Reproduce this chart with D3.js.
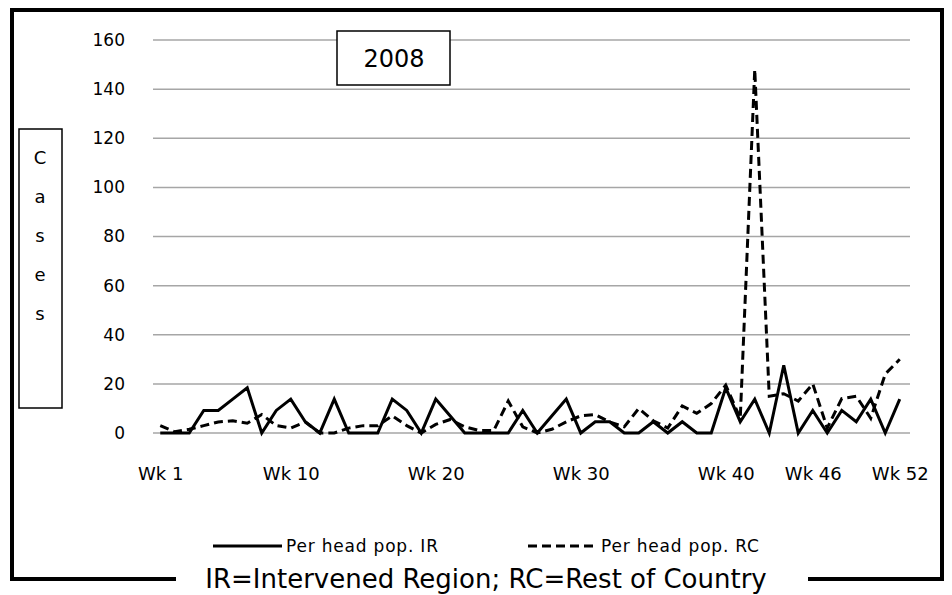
<!DOCTYPE html>
<html>
<head>
<meta charset="utf-8">
<script src="https://cdn.jsdelivr.net/npm/d3@7"></script>
<style>
  body { margin: 0; background: #fff; }
  text { font-family: "DejaVu Sans", Verdana, sans-serif; fill: #000; }
</style>
</head>
<body>
<div id="chart"></div>
<script>
// weekly cases per head of population, 2008
var weeks = d3.range(1, 53).map(function (w) { return "Wk " + w; });
var tickWeeks = ["Wk 1", "Wk 10", "Wk 20", "Wk 30", "Wk 40", "Wk 46", "Wk 52"];
var yTicks = [0, 20, 40, 60, 80, 100, 120, 140, 160];

var perHeadIR = [0, 0, 0, 9.2, 9.2, 13.8, 18.4, 0, 9.2, 13.8,
  4.6, 0, 13.8, 0, 0, 0, 13.8, 9.2, 0, 13.8,
  6.9, 0, 0, 0, 0, 9.2, 0, 6.9, 13.8, 0,
  4.6, 4.6, 0, 0, 4.6, 0, 4.6, 0, 0, 18.4,
  4.6, 13.8, 0, 27.6, 0, 9.2, 0, 9.2, 4.6, 13.8,
  0, 13.8];
var perHeadRC = [3, 0.5, 1.5, 3, 4.5, 5, 4, 7.5, 3, 2,
  4.5, 0, 0, 2, 3, 3, 7, 3, 0, 3.5,
  5.5, 2.5, 1, 1, 13, 2.5, 0, 1.5, 4.5, 7,
  7.5, 4.5, 2.5, 10, 5, 2, 11, 8, 12, 19.5,
  6, 148, 15, 16, 13, 20, 2, 14, 15, 6,
  24, 30];

var svgWidth = 952;
var svgHeight = 595;
var plot = { left: 153, right: 907, top: 40, bottom: 433 };

var svg = d3.select("#chart")
  .append("svg")
  .attr("width", svgWidth)
  .attr("height", svgHeight);

// outer frame
svg.append("rect")
  .attr("x", 12).attr("y", 10)
  .attr("width", 930).attr("height", 569)
  .attr("fill", "none")
  .attr("stroke", "#000")
  .attr("stroke-width", 4);

var xscale = d3.scalePoint()
  .domain(weeks)
  .range([plot.left, plot.right])
  .padding(0.5);

var yscale = d3.scaleLinear()
  .domain([0, 160])
  .range([plot.bottom, plot.top]);

// gridlines
svg.append("g")
  .selectAll("line")
  .data(yTicks)
  .enter()
  .append("line")
  .attr("x1", plot.left)
  .attr("x2", plot.right + 3)
  .attr("y1", d => yscale(d))
  .attr("y2", d => yscale(d))
  .attr("stroke", "#a6a6a6")
  .attr("stroke-width", 1.5);

// y axis labels
var yAxis = d3.axisLeft(yscale).tickValues(yTicks).tickSize(0).tickPadding(0);
svg.append("g")
  .attr("transform", "translate(125,0)")
  .call(yAxis)
  .call(g => g.select(".domain").remove())
  .selectAll("text")
  .style("font-size", "17px")
  .style("font-family", "DejaVu Sans")
  .attr("fill", "#000");

// x axis labels
var xAxis = d3.axisBottom(xscale).tickValues(tickWeeks).tickSize(0).tickPadding(0);
svg.append("g")
  .attr("transform", "translate(0,467)")
  .call(xAxis)
  .call(g => g.select(".domain").remove())
  .selectAll("text")
  .style("font-size", "18px")
  .style("font-family", "DejaVu Sans")
  .attr("fill", "#000");

// series
var line = d3.line()
  .x((d, i) => xscale(weeks[i]))
  .y(d => yscale(d));

svg.append("path")
  .datum(perHeadRC)
  .attr("d", line)
  .attr("fill", "none")
  .attr("stroke", "#000")
  .attr("stroke-width", 3)
  .attr("stroke-dasharray", "9,5");

svg.append("path")
  .datum(perHeadIR)
  .attr("d", line)
  .attr("fill", "none")
  .attr("stroke", "#000")
  .attr("stroke-width", 3)
  .attr("stroke-linejoin", "miter");

// title box
svg.append("rect")
  .attr("x", 337).attr("y", 31)
  .attr("width", 113).attr("height", 54)
  .attr("fill", "#fff")
  .attr("stroke", "#000")
  .attr("stroke-width", 1.5);
svg.append("text")
  .attr("x", 394).attr("y", 67)
  .attr("text-anchor", "middle")
  .style("font-size", "24px")
  .text("2008");

// y label box
svg.append("rect")
  .attr("x", 19).attr("y", 129)
  .attr("width", 43).attr("height", 279)
  .attr("fill", "#fff")
  .attr("stroke", "#000")
  .attr("stroke-width", 1.5);
svg.append("g")
  .selectAll("text")
  .data("Cases".split(""))
  .enter()
  .append("text")
  .attr("x", 40)
  .attr("y", (d, i) => 164 + i * 39)
  .attr("text-anchor", "middle")
  .style("font-size", "18px")
  .text(d => d);

// legend
var legend = [
  { name: "Per head pop. IR", x: 213, dash: null },
  { name: "Per head pop. RC", x: 528, dash: "9,5" }
];
var lg = svg.append("g").selectAll("g").data(legend).enter().append("g");
lg.append("line")
  .attr("x1", d => d.x).attr("x2", d => d.x + 69)
  .attr("y1", 546).attr("y2", 546)
  .attr("stroke", "#000")
  .attr("stroke-width", 3)
  .attr("stroke-dasharray", d => d.dash);
lg.append("text")
  .attr("x", d => d.x + 73)
  .attr("y", 552)
  .style("font-size", "17px")
  .style("letter-spacing", "0.8px")
  .text(d => d.name);

// caption over bottom frame
svg.append("rect")
  .attr("x", 176).attr("y", 568)
  .attr("width", 632).attr("height", 24)
  .attr("fill", "#fff");
svg.append("text")
  .attr("x", 486).attr("y", 588)
  .attr("text-anchor", "middle")
  .style("font-size", "26px")
  .text("IR=Intervened Region; RC=Rest of Country");
</script>
</body>
</html>
